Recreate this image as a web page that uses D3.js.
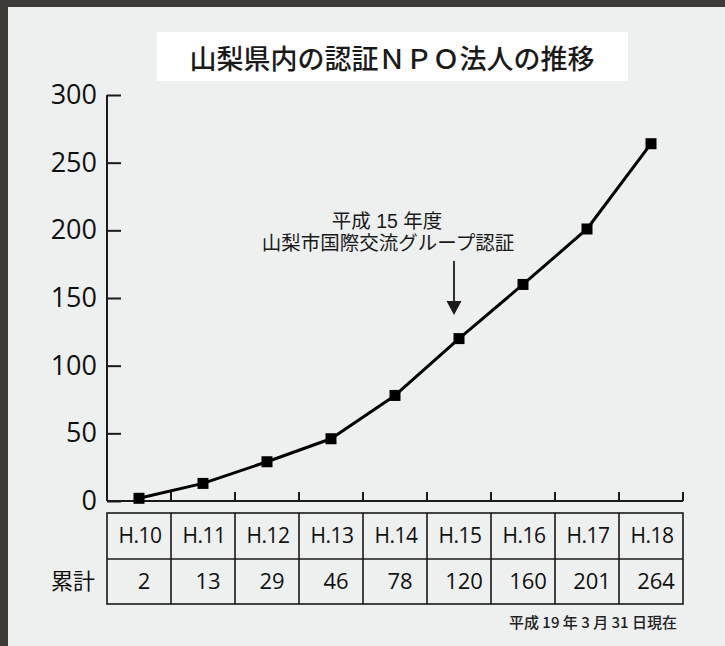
<!DOCTYPE html>
<html>
<head>
<meta charset="utf-8">
<script src="https://cdn.jsdelivr.net/npm/d3@7/dist/d3.min.js"></script>
<style>
html,body{margin:0;padding:0;background:#eef0ef;}
svg{display:block;}
</style>
</head>
<body>
<svg id="chart" width="725" height="646"></svg>
<script>
const title = "山梨県内の認証ＮＰＯ法人の推移";
const categories = ["H.10","H.11","H.12","H.13","H.14","H.15","H.16","H.17","H.18"];
const values = [2, 13, 29, 46, 78, 120, 160, 201, 264];
const yTicks = [0, 50, 100, 150, 200, 250, 300];
const rowLabel = "累計";
const annotationLines = ["平成 15 年度", "山梨市国際交流グループ認証"];
const annotationCategory = "H.15";
const footnote = "平成 19 年 3 月 31 日現在";

const svg = d3.select("#chart");
const W = 725, H = 646;
const jp = "'Noto Sans CJK JP','Noto Sans',sans-serif";
const jpTight = "'Liberation Sans','Noto Sans CJK JP',sans-serif";
const num = "'Open Sans','Noto Sans',sans-serif";
const ink = "#1a1a1a";

// background and frame
svg.append("rect").attr("width", W).attr("height", H).attr("fill", "#eef0ef");
svg.append("rect").attr("x", 0).attr("y", 0).attr("width", W).attr("height", 7).attr("fill", "#3d3a38");
svg.append("rect").attr("x", 0).attr("y", 0).attr("width", 8).attr("height", H).attr("fill", "#3d3a38");

// title box
svg.append("rect").attr("x", 157).attr("y", 32).attr("width", 471).attr("height", 49).attr("fill", "#ffffff");
svg.append("text").attr("x", 392).attr("y", 57).attr("text-anchor", "middle")
  .attr("dominant-baseline", "central")
  .attr("font-family", jp).attr("font-size", 27).attr("font-weight", 500).attr("fill", ink).text(title);

const x = d3.scaleBand().domain(categories).range([107, 683]).padding(0);
const y = d3.scaleLinear().domain([0, 300]).range([501, 95]);

// y axis
const yAxis = svg.append("g").attr("transform", `translate(${x.range()[0]},0)`)
  .call(d3.axisLeft(y).tickValues(yTicks).tickSize(-14).tickPadding(10).tickFormat(d3.format("d")));
yAxis.select(".domain").attr("stroke", ink).attr("stroke-width", 2).attr("d", `M0,${y(300)}V${y(0)}`);
yAxis.selectAll(".tick line").attr("stroke", ink).attr("stroke-width", 2);
yAxis.selectAll(".tick text").attr("font-family", num).attr("font-size", 27).attr("fill", "#111");

// x axis line with boundary ticks
const xg = svg.append("g");
xg.append("line").attr("x1", x.range()[0]).attr("x2", x.range()[1])
  .attr("y1", y(0)).attr("y2", y(0)).attr("stroke", ink).attr("stroke-width", 2);
const bounds = categories.map(c => x(c) + x.bandwidth());
xg.selectAll("line.tk").data(bounds).join("line").attr("class", "tk")
  .attr("x1", d => d).attr("x2", d => d)
  .attr("y1", y(0)).attr("y2", y(0) - 9)
  .attr("stroke", ink).attr("stroke-width", 2);

// line + markers
const cx = c => x(c) + x.bandwidth() / 2;
const line = d3.line().x((d, i) => cx(categories[i])).y(d => y(d));
svg.append("path").datum(values).attr("d", line).attr("fill", "none")
  .attr("stroke", "#000").attr("stroke-width", 3).attr("stroke-linejoin", "round");
const ms = 11;
svg.selectAll("rect.mk").data(values).join("rect").attr("class", "mk")
  .attr("x", (d, i) => cx(categories[i]) - ms / 2)
  .attr("y", d => y(d) - ms / 2)
  .attr("width", ms).attr("height", ms).attr("fill", "#000");

// annotation
const ax = cx(annotationCategory) - 5;
svg.append("text").attr("font-family", jpTight).attr("font-size", 19.5).attr("fill", ink)
  .attr("text-anchor", "middle").attr("x", 387).attr("y", 228).text(annotationLines[0]);
svg.append("text").attr("font-family", jpTight).attr("font-size", 19.5).attr("fill", ink)
  .attr("text-anchor", "middle").attr("x", 388).attr("y", 250).text(annotationLines[1]);
svg.append("line").attr("x1", ax).attr("x2", ax).attr("y1", 261).attr("y2", 303)
  .attr("stroke", ink).attr("stroke-width", 1.8);
svg.append("path").attr("d", `M${ax - 7.5},301L${ax + 7.5},301L${ax},315Z`).attr("fill", ink);

// table
const tTop = 513, tMid = 559, tBot = 604;
const tg = svg.append("g").attr("stroke", ink).attr("stroke-width", 1.6).attr("fill", "none");
tg.append("rect").attr("x", x.range()[0]).attr("y", tTop)
  .attr("width", x.range()[1] - x.range()[0]).attr("height", tBot - tTop);
tg.append("line").attr("x1", x.range()[0]).attr("x2", x.range()[1]).attr("y1", tMid).attr("y2", tMid);
tg.selectAll("line.col").data(categories.slice(1)).join("line").attr("class", "col")
  .attr("x1", d => x(d)).attr("x2", d => x(d)).attr("y1", tTop).attr("y2", tBot);

svg.selectAll("text.cat").data(categories).join("text").attr("class", "cat")
  .attr("x", d => cx(d) + 1).attr("y", (tTop + tMid) / 2).attr("dy", "0.35em")
  .attr("text-anchor", "middle").attr("font-family", num).attr("font-size", 21)
  .attr("letter-spacing", -0.5)
  .attr("fill", "#111").text(d => d);
svg.selectAll("text.val").data(values).join("text").attr("class", "val")
  .attr("x", (d, i) => cx(categories[i]) + 5).attr("y", (tMid + tBot) / 2).attr("dy", "0.35em")
  .attr("text-anchor", "middle").attr("font-family", num).attr("font-size", 22)
  .attr("fill", "#111").text(d => d);
svg.append("text").attr("x", 95).attr("y", (tMid + tBot) / 2).attr("dy", "0.35em")
  .attr("text-anchor", "end").attr("font-family", jp).attr("font-size", 22)
  .attr("fill", "#111").text(rowLabel);

// footnote
svg.append("text").attr("x", 677).attr("y", 623).attr("dy", "0.35em")
  .attr("text-anchor", "end").attr("font-family", jp).attr("font-size", 15).attr("font-weight", 500)
  .attr("fill", "#222").text(footnote);
</script>
</body>
</html>
